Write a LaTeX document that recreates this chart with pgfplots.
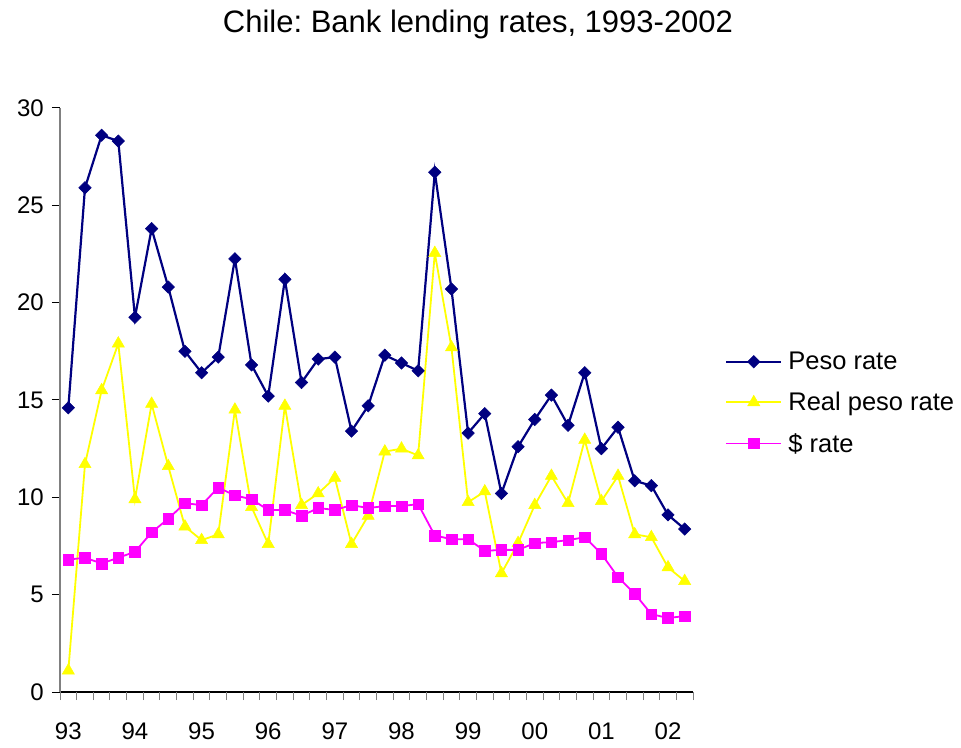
\documentclass[border=0pt]{standalone}
\usepackage{pgfplots}
\pgfplotsset{compat=1.18}
\usepackage{pgfplotstable}
\usepackage{fontspec}
\setmainfont{Liberation Sans}
\frenchspacing
\definecolor{peso}{RGB}{0,0,128}
\definecolor{realc}{RGB}{255,255,0}
\definecolor{dollar}{RGB}{255,0,255}
\pgfplotstableread{
i peso real dollar
0 14.6 1.1 6.8
1 25.9 11.7 6.9
2 28.6 15.5 6.6
3 28.3 17.9 6.9
4 19.25 9.9 7.2
5 23.8 14.8 8.2
6 20.8 11.6 8.9
7 17.5 8.5 9.7
8 16.4 7.8 9.6
9 17.2 8.1 10.5
10 22.25 14.5 10.1
11 16.8 9.5 9.9
12 15.2 7.6 9.35
13 21.2 14.7 9.35
14 15.9 9.6 9.05
15 17.1 10.2 9.45
16 17.2 11.0 9.35
17 13.4 7.6 9.6
18 14.7 9.05 9.45
19 17.3 12.35 9.55
20 16.9 12.5 9.55
21 16.5 12.15 9.65
22 26.7 22.55 8.04
23 20.7 17.7 7.85
24 13.3 9.75 7.85
25 14.3 10.3 7.25
26 10.2 6.1 7.3
27 12.6 7.65 7.3
28 14.0 9.6 7.65
29 15.25 11.1 7.7
30 13.7 9.7 7.8
31 16.4 12.95 7.95
32 12.5 9.8 7.1
33 13.6 11.1 5.9
34 10.85 8.1 5.05
35 10.6 7.95 4.0
36 9.1 6.4 3.8
37 8.37 5.7 3.9
}\datatable
\begin{document}
\begin{tikzpicture}
\path[use as bounding box] (0pt,0pt) rectangle (961pt,747pt);
\node[font=\fontsize{31}{37}\selectfont, anchor=base] at (478pt,714pt) {Chile: Bank lending rates, 1993-2002};
\begin{axis}[
  at={(60pt,55pt)}, anchor=south west,
  width=633pt, height=584pt, scale only axis,
  xmin=-0.5, xmax=37.5, ymin=0, ymax=30,
  axis x line*=bottom, axis y line*=left,
  x axis line style={black, line width=1.2pt},
  y axis line style={gray, line width=1.5pt},
  ytick={0,5,...,30},
  ytick style={black, line width=1pt},
  xtick={0,4,...,36},
  xticklabels={93,94,95,96,97,98,99,00,01,02},
  xtick style={draw=none},
  extra x ticks={-0.5,0.5,...,37.5},
  extra x tick labels={},
  extra x tick style={xtick style={draw=gray, line width=1pt}},
  tick align=outside, major tick length=8pt,
  /pgf/number format/assume math mode=true,
  tick label style={font=\fontsize{24}{28}\selectfont},
  yticklabel style={inner sep=0pt, xshift=-8pt},
  xticklabel style={inner sep=0pt, yshift=-23pt},
  legend style={at={(1.0505,0.495)}, anchor=west, draw=none, fill=none,
    font=\fontsize{25.5}{30}\selectfont, row sep=21pt, inner sep=0pt,
    nodes={inner sep=0pt}, column sep=6pt},
  legend cell align=left,
  legend image code/.code={\draw[mark repeat=2,mark phase=2] plot coordinates {(0pt,0pt)(27.5pt,0pt)(55pt,0pt)};},
]
\addplot[peso, line width=2.2pt, mark=square*, mark size=4.4pt, mark options={rotate=45, solid, fill=peso, line width=0.5pt}] table[x=i, y=peso] {\datatable};
\addlegendentry{Peso rate}
\addplot[realc, line width=1.8pt, mark=triangle*, mark size=7pt, mark options={solid, fill=realc, line width=0.5pt}] table[x=i, y=real] {\datatable};
\addlegendentry{Real peso rate}
\addplot[dollar, line width=1.8pt, mark=square*, mark size=5.3pt, mark options={solid, fill=dollar, line width=0.5pt}] table[x=i, y=dollar] {\datatable};
\addlegendentry{\$ rate}
\end{axis}
\end{tikzpicture}
\end{document}
